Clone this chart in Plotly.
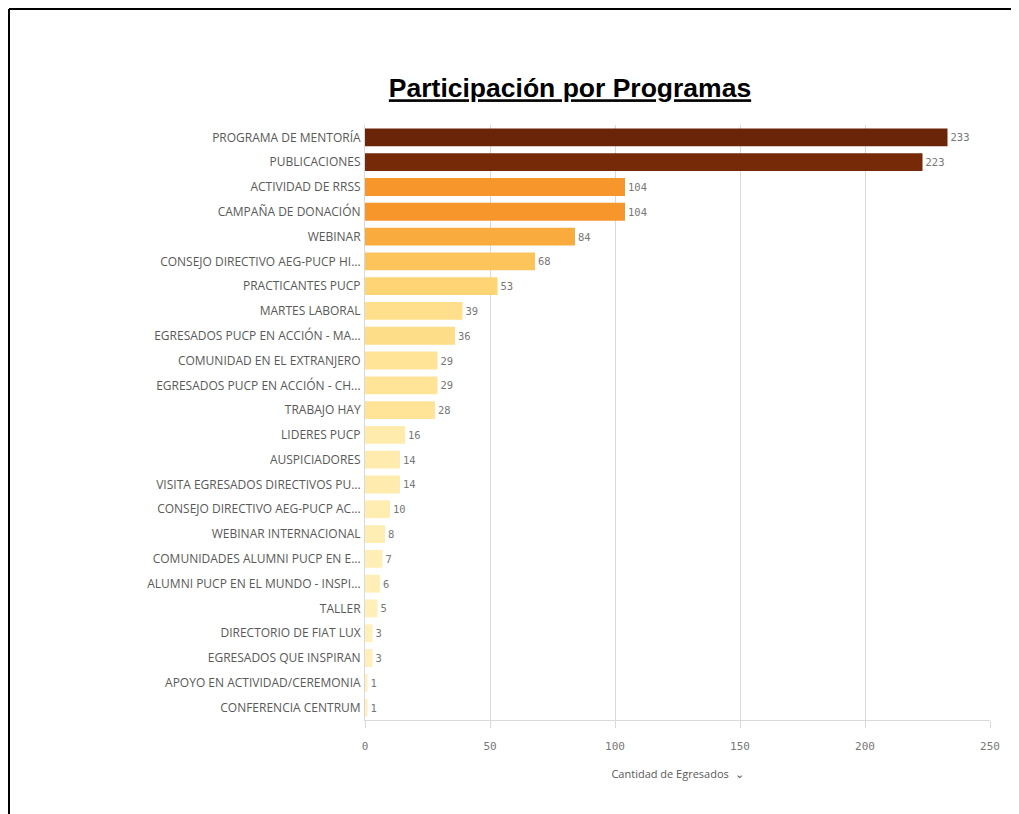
import plotly.graph_objects as go

categories = [
    "PROGRAMA DE MENTORÍA", "PUBLICACIONES", "ACTIVIDAD DE RRSS", "CAMPAÑA DE DONACIÓN",
    "WEBINAR", "CONSEJO DIRECTIVO AEG-PUCP HI...", "PRACTICANTES PUCP", "MARTES LABORAL",
    "EGRESADOS PUCP EN ACCIÓN - MA...", "COMUNIDAD EN EL EXTRANJERO",
    "EGRESADOS PUCP EN ACCIÓN - CH...", "TRABAJO HAY", "LIDERES PUCP", "AUSPICIADORES",
    "VISITA EGRESADOS DIRECTIVOS PU...", "CONSEJO DIRECTIVO AEG-PUCP AC...",
    "WEBINAR INTERNACIONAL", "COMUNIDADES ALUMNI PUCP EN E...",
    "ALUMNI PUCP EN EL MUNDO - INSPI...", "TALLER", "DIRECTORIO DE FIAT LUX",
    "EGRESADOS QUE INSPIRAN", "APOYO EN ACTIVIDAD/CEREMONIA", "CONFERENCIA CENTRUM",
]
values = [233, 223, 104, 104, 84, 68, 53, 39, 36, 29, 29, 28, 16, 14, 14, 10, 8, 7, 6, 5, 3, 3, 1, 1]
bar_colors = [
    "#6A2508", "#762A08", "#F7962B", "#F7962B", "#FAAB3D", "#FDC45B", "#FED475",
    "#FFDF8C", "#FEDD88", "#FFE497", "#FFE497", "#FFE498", "#FFEBAC", "#FFEBAE",
    "#FFEBAE", "#FFEDB2", "#FFEEB4", "#FFEEB5", "#FFEEB6", "#FFEFB8", "#FFEFBA",
    "#FFEFBA", "#FFF0BC", "#FFF0BC",
]
x_ticks = [0, 50, 100, 150, 200, 250]

W, H = 1011, 806
L, R, T, B = 357, 29, 117, 94
PW, PH = W - L - R, H - T - B

fig = go.Figure(go.Bar(
    x=values, y=categories, orientation="h",
    marker=dict(color=bar_colors, line=dict(width=0)),
    width=0.72,
    text=[str(v) for v in values], textposition="outside",
    textfont=dict(family="DejaVu Sans Mono", size=10.5, color="#777777"),
    cliponaxis=False,
))

fig.update_layout(
    width=W, height=H,
    paper_bgcolor="white", plot_bgcolor="white",
    margin=dict(l=L, r=R, t=T, b=B),
    showlegend=False,
    title=dict(
        text="<b><u>Participación por Programas</u></b>",
        x=562 / W, xanchor="center", xref="container",
        y=1 - 80 / H, yanchor="middle", yref="container",
        font=dict(family="Liberation Sans", size=26.5, color="black"),
    ),
)

fig.update_yaxes(
    autorange="reversed", showgrid=False,
    showline=True, linecolor="#d9d9d9", linewidth=1,
    tickfont=dict(family="Open Sans", size=12, color="#595959"),
    ticks="", ticklabelstandoff=1,
)
fig.update_xaxes(
    range=[0, 250], tickvals=x_ticks, ticktext=[str(t) for t in x_ticks],
    showgrid=True, gridcolor="#d9d9d9", gridwidth=1,
    showline=True, linecolor="#d9d9d9", linewidth=1,
    ticks="outside", ticklen=7, tickcolor="#d9d9d9",
    tickfont=dict(family="DejaVu Sans Mono", size=11, color="#777777"),
    ticklabelstandoff=9,
    zeroline=False,
    title=dict(text="Cantidad de Egresados  ⌄", font=dict(family="Open Sans", size=11, color="#595959"), standoff=18),
)

# outer frame (left and top black borders)
fx0 = (1 - L) / PW
fx1 = (W - L) / PW
fy_top = (PH + T - 1) / PH
fy_bot = (PH + T - H) / PH
fig.add_shape(type="line", xref="paper", yref="paper",
              x0=fx0, x1=fx0, y0=fy_top, y1=fy_bot,
              line=dict(color="black", width=2))
fig.add_shape(type="line", xref="paper", yref="paper",
              x0=fx0, x1=fx1, y0=fy_top, y1=fy_top,
              line=dict(color="black", width=2))

fig.write_html("out.html")
